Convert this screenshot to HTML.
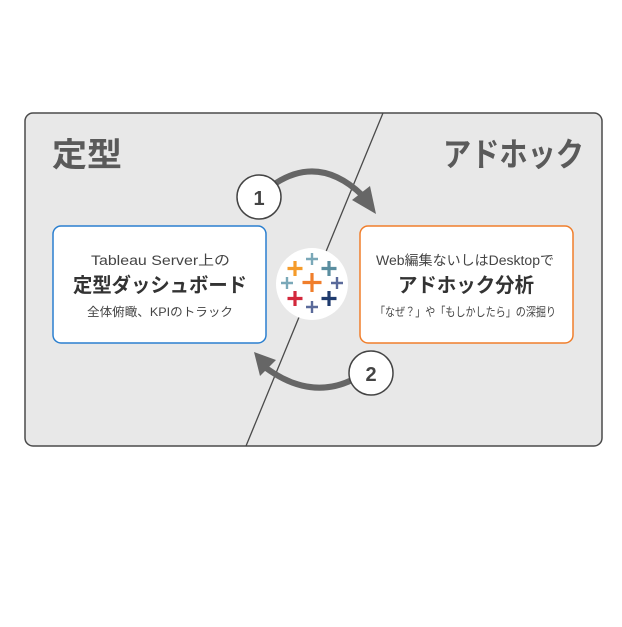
<!DOCTYPE html>
<html><head><meta charset="utf-8"><style>
body{margin:0;width:622px;height:622px;background:#fff;overflow:hidden;font-family:"Liberation Sans","Noto Sans CJK JP",sans-serif}
</style></head><body>
<svg width="622" height="622" viewBox="0 0 622 622" xmlns="http://www.w3.org/2000/svg" font-family="Liberation Sans, Noto Sans CJK JP, sans-serif">
<rect x="25" y="113" width="577" height="333" rx="8" fill="#e8e8e8" stroke="#4a4a4a" stroke-width="1.5"/>
<line x1="383" y1="113" x2="246" y2="446" stroke="#4a4a4a" stroke-width="1.3"/>
<text x="52" y="166" font-size="33" font-weight="bold" fill="#5a5a5a" textLength="70" lengthAdjust="spacingAndGlyphs">定型</text>
<text x="443" y="166" font-size="33" font-weight="bold" fill="#5a5a5a" textLength="141" lengthAdjust="spacingAndGlyphs">アドホック</text>
<!-- arrow 1 -->
<path d="M276 183 Q320 155 362 195" fill="none" stroke="#666" stroke-width="6"/>
<polygon points="376,214 352,200 370,186" fill="#666"/>
<circle cx="259" cy="197" r="22" fill="#fff" stroke="#444" stroke-width="1.5"/>
<text x="259" y="205" font-size="20" font-weight="bold" fill="#444" text-anchor="middle">1</text>
<!-- arrow 2 -->
<path d="M352 380 Q310 400 266 368" fill="none" stroke="#666" stroke-width="6"/>
<polygon points="254,352 276,360 260,376" fill="#666"/>
<circle cx="371" cy="373" r="22" fill="#fff" stroke="#444" stroke-width="1.5"/>
<text x="371" y="381" font-size="20" font-weight="bold" fill="#444" text-anchor="middle">2</text>
<!-- boxes -->
<rect x="53" y="226" width="213" height="117" rx="8" fill="#fff" stroke="#2a7fcf" stroke-width="1.5"/>
<text x="91" y="265" font-size="13.5" fill="#444" textLength="139" lengthAdjust="spacingAndGlyphs">Tableau Server上の</text>
<text x="73" y="292" font-size="20" font-weight="bold" fill="#333" textLength="174" lengthAdjust="spacingAndGlyphs">定型ダッシュボード</text>
<text x="87" y="316" font-size="12" fill="#444" textLength="146" lengthAdjust="spacingAndGlyphs">全体俯瞰、KPIのトラック</text>
<rect x="360" y="226" width="213" height="117" rx="8" fill="#fff" stroke="#f07e2b" stroke-width="1.5"/>
<text x="376" y="265" font-size="13.5" fill="#444" textLength="178" lengthAdjust="spacingAndGlyphs">Web編集ないしはDesktopで</text>
<text x="398" y="292" font-size="20" font-weight="bold" fill="#333" textLength="136" lengthAdjust="spacingAndGlyphs">アドホック分析</text>
<text x="375" y="316" font-size="12" fill="#444" textLength="181" lengthAdjust="spacingAndGlyphs">「なぜ？」や「もしかしたら」の深掘り</text>
<!-- logo -->
<circle cx="312" cy="284" r="36" fill="#fff"/>
<g stroke-width="3.2" fill="none">
<path d="M312 273v19M302.5 282.5h19" stroke="#f07e2b"/>
<path d="M295 261v15M287.5 268.5h15" stroke="#f59b2a"/>
<path d="M312 253v12M306 259h12" stroke="#7aa8b8" stroke-width="2.4"/>
<path d="M329 261v15M321.5 268.5h15" stroke="#5a8ea0"/>
<path d="M287 277v12M281 283h12" stroke="#7aa8b8" stroke-width="2.4"/>
<path d="M337 277v12M331 283h12" stroke="#5a6a9a" stroke-width="2.4"/>
<path d="M295 291v15M287.5 298.5h15" stroke="#d3283c"/>
<path d="M329 291v15M321.5 298.5h15" stroke="#1f3b6e"/>
<path d="M312 301v12M306 307h12" stroke="#5a6a9a" stroke-width="2.4"/>
</g>
</svg>
</body></html>
